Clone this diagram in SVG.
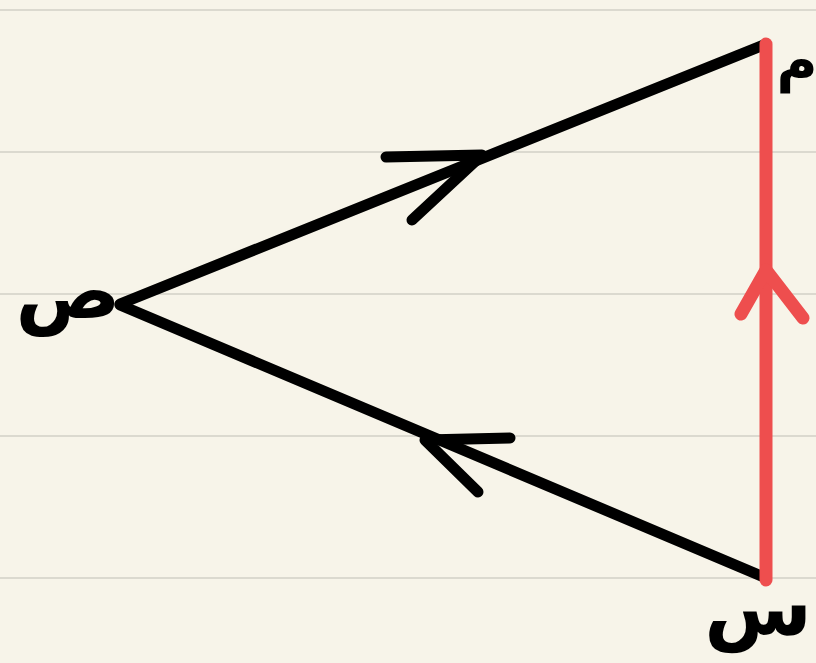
<svg xmlns="http://www.w3.org/2000/svg" width="816" height="663" viewBox="0 0 816 663">
<style>
.rule{stroke:#dbd9cf;stroke-width:2}
.blk{stroke:#000;stroke-width:11;fill:none;stroke-linecap:round;stroke-linejoin:round}
.red{stroke:#ee4e4e;stroke-width:13;fill:none;stroke-linecap:round;stroke-linejoin:round}
.lbl{font-family:"DejaVu Sans",sans-serif;font-weight:bold;fill:#000}
</style>
<rect width="816" height="663" fill="#f7f4e9"/>
<g id="rules">
<line class="rule" x1="0" y1="10" x2="816" y2="10"/>
<line class="rule" x1="0" y1="152" x2="816" y2="152"/>
<line class="rule" x1="0" y1="294" x2="816" y2="294"/>
<line class="rule" x1="0" y1="436" x2="816" y2="436"/>
<line class="rule" x1="0" y1="578" x2="816" y2="578"/>
</g>
<g id="connectors">
<line class="blk" x1="120" y1="304" x2="766" y2="44"/>
<polyline class="blk" points="386,157 482,155 412,220"/>
<line class="blk" x1="120" y1="305" x2="766" y2="578"/>
<polyline class="blk" points="510,438 425,440 478,492"/>
<line class="red" x1="766" y1="44" x2="766" y2="580"/>
<polyline class="red" points="741,314 766,270 803,318"/>
</g>
<g id="node-sad"><text class="lbl" x="68" y="318" font-size="78" text-anchor="middle">ص</text></g>
<g id="node-mim"><text class="lbl" x="797" y="80" font-size="56" text-anchor="middle">م</text></g>
<g id="node-sin"><text class="lbl" x="758" y="635" font-size="78" text-anchor="middle">س</text></g>
</svg>
